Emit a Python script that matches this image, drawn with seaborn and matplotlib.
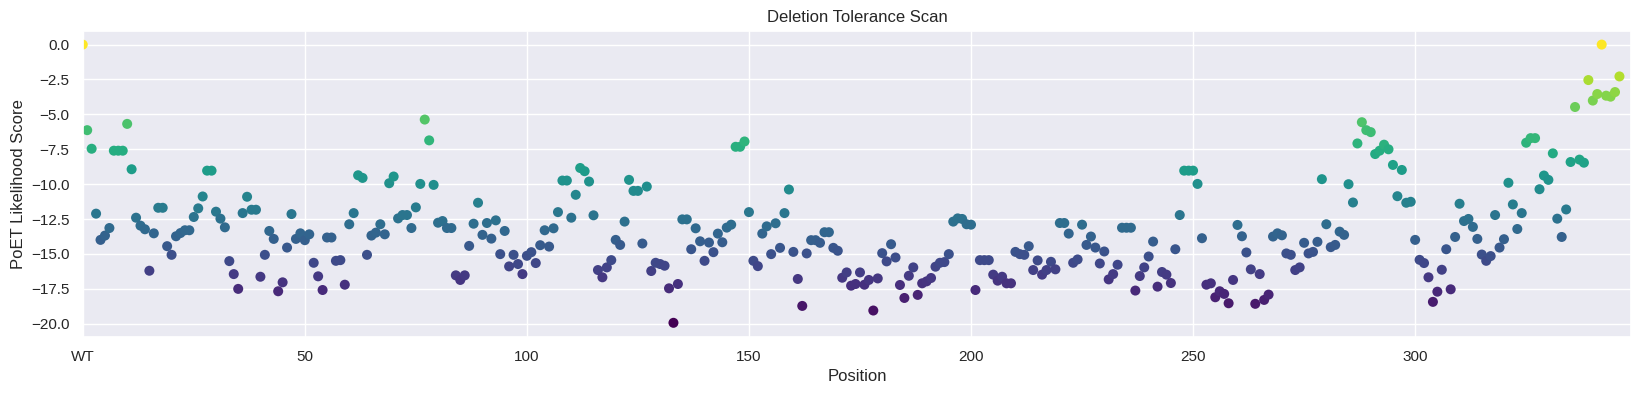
import numpy as np
import pandas as pd
import matplotlib
matplotlib.use("Agg")
import matplotlib.pyplot as plt
import seaborn as sns

# ---- data ----
positions = list(range(0, 347))
scores = [
    0.0, -6.13, -7.46, -12.11, -13.99, -13.68, -13.14, -7.6, -7.6, -7.6,
    -5.68, -8.93, -12.4, -12.97, -13.23, -16.2, -13.52, -11.69, -11.69, -14.44,
    -15.06, -13.73, -13.5, -13.3, -13.3, -12.35, -11.73, -10.88, -9.03, -9.03,
    -11.97, -12.47, -13.09, -15.51, -16.44, -17.5, -12.07, -10.9, -11.83, -11.83,
    -16.63, -15.06, -13.35, -13.92, -17.67, -17.03, -14.54, -12.14, -13.92, -13.52,
    -14.01, -13.59, -15.63, -16.6, -17.58, -13.82, -13.82, -15.49, -15.44, -17.2,
    -12.87, -12.07, -9.36, -9.55, -15.06, -13.68, -13.47, -12.87, -13.59, -9.93,
    -9.45, -12.45, -12.21, -12.21, -13.14, -11.66, -9.98, -5.37, -6.86, -10.05,
    -12.76, -12.64, -13.14, -13.14, -16.53, -16.86, -16.53, -14.42, -12.83, -11.33,
    -13.63, -12.78, -13.9, -12.59, -15.01, -13.35, -15.89, -15.06, -15.72, -16.44,
    -15.13, -14.87, -15.65, -14.37, -13.3, -14.47, -13.16, -12.0, -9.74, -9.74,
    -12.4, -10.76, -8.84, -9.07, -9.81, -12.23, -16.15, -16.67, -15.96, -15.44,
    -13.99, -14.35, -12.68, -9.69, -10.48, -10.48, -14.25, -10.17, -16.22, -15.63,
    -15.72, -15.84, -17.46, -19.93, -17.15, -12.52, -12.52, -14.66, -13.16, -14.09,
    -15.49, -14.18, -14.87, -13.54, -14.16, -13.11, -12.9, -7.32, -7.32, -6.94,
    -12.0, -15.49, -15.87, -13.54, -13.02, -15.01, -12.8, -14.56, -12.07, -10.38,
    -14.85, -16.79, -18.72, -14.96, -14.01, -14.01, -14.2, -13.44, -13.44, -14.56,
    -14.77, -16.7, -16.32, -17.27, -17.15, -16.32, -17.2, -16.86, -19.05, -16.75,
    -14.94, -15.53, -14.3, -15.25, -17.22, -18.15, -16.56, -15.96, -17.93, -17.1,
    -16.96, -16.72, -15.91, -15.63, -15.58, -15.01, -12.68, -12.45, -12.49, -12.87,
    -12.9, -17.58, -15.44, -15.44, -15.44, -16.48, -16.91, -16.63, -17.1, -17.1,
    -14.85, -15.01, -15.06, -14.44, -16.15, -15.46, -16.48, -16.15, -15.56, -16.1,
    -12.78, -12.78, -13.54, -15.63, -15.39, -12.9, -14.35, -13.75, -14.54, -15.68,
    -14.82, -16.82, -16.44, -15.77, -13.12, -13.12, -13.12, -17.62, -16.58, -15.96,
    -15.18, -14.11, -17.34, -16.29, -16.48, -17.08, -14.66, -12.21, -9.03, -9.03,
    -9.03, -9.98, -13.87, -17.2, -17.1, -18.1, -17.67, -17.86, -18.53, -16.86,
    -12.92, -13.73, -14.89, -16.1, -18.57, -16.44, -18.29, -17.91, -13.75, -13.52,
    -13.66, -14.96, -15.06, -16.15, -15.96, -14.2, -14.96, -14.85, -14.13, -9.64,
    -12.87, -14.51, -14.35, -13.4, -13.63, -10.0, -11.31, -7.08, -5.56, -6.13,
    -6.27, -7.84, -7.6, -7.17, -7.5, -8.62, -10.86, -8.98, -11.33, -11.26,
    -13.99, -15.42, -15.65, -16.67, -18.43, -17.7, -16.13, -14.66, -17.53, -13.78,
    -11.4, -12.64, -12.49, -13.06, -13.92, -15.04, -15.49, -15.15, -12.21, -14.54,
    -13.94, -9.9, -11.45, -13.21, -12.07, -7.03, -6.7, -6.7, -10.36, -9.38,
    -9.69, -7.79, -12.47, -13.78, -11.81, -8.41, -4.47, -8.24, -8.46, -2.54,
    -4.01, -3.54, 0.0, -3.66, -3.73, -3.4, -2.28,
]
xtick_values = [0, 50, 100, 150, 200, 250, 300]
xtick_labels = ["WT", "50", "100", "150", "200", "250", "300"]
title = "Deletion Tolerance Scan"
xlabel = "Position"
ylabel = "PoET Likelihood Score"

df = pd.DataFrame({"Position": positions, "Score": scores})

sns.set_theme(style="darkgrid")
plt.rcParams["font.family"] = ["Liberation Sans", "DejaVu Sans"]

fig = plt.figure(figsize=(16.42, 3.96), dpi=100)
ax = fig.add_axes([0.0504, 0.1497, 0.9429, 0.7728])

sns.scatterplot(
    data=df, x="Position", y="Score", hue="Score", palette="viridis",
    hue_norm=(min(scores), max(scores)), legend=False, s=52, linewidth=0,
    ax=ax,
)

ax.set_xlim(0, 348.6)
ax.set_xticks(xtick_values)
ax.set_xticklabels(xtick_labels)
ax.set_title(title, fontsize=12)
ax.set_xlabel(xlabel, fontsize=12)
ax.set_ylabel(ylabel, fontsize=12)
ax.tick_params(labelsize=11)

fig.savefig("out.png", dpi=100)
